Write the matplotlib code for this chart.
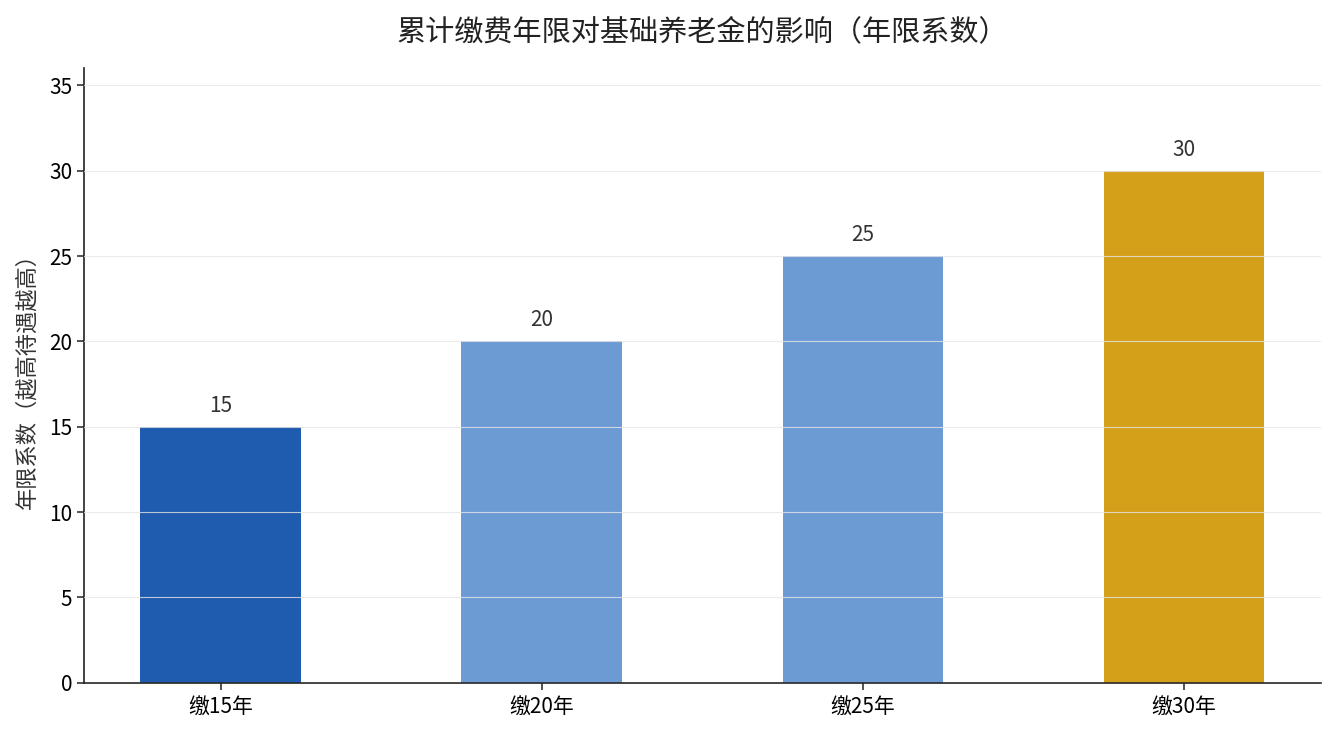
import matplotlib
matplotlib.use("Agg")
import matplotlib.pyplot as plt

plt.rcParams['font.family'] = ['Noto Sans CJK SC', 'DejaVu Sans']

categories = ["缴15年", "缴20年", "缴25年", "缴30年"]
values = [15, 20, 25, 30]
colors = ["#1F5BAE", "#6C9BD4", "#6C9BD4", "#D4A01A"]

fig = plt.figure(figsize=(13.34, 7.35), dpi=100)
ax = fig.add_axes([0.063, 0.071, 0.927, 0.836])

x = list(range(len(categories)))
bars = ax.bar(x, values, width=0.5, color=colors, zorder=2)
for xi, v in zip(x, values):
    ax.text(xi, v + 0.6, f"{v}", ha="center", va="bottom", fontsize=15, color="#333333")

ax.set_xticks(x)
ax.set_xticklabels(categories, fontsize=15)
ax.set_ylim(0, 36)
ax.set_yticks(range(0, 36, 5))
ax.tick_params(axis='y', labelsize=15, length=5, width=1.1, color="#222222")
ax.tick_params(axis='x', length=5, width=1.1, color="#222222", pad=4)
ax.yaxis.grid(True, color="#e6e6e6", linewidth=0.8, alpha=0.8, zorder=3)
ax.set_axisbelow(False)
ax.set_ylabel("年限系数（越高待遇越高）", fontsize=16, color="#333333", labelpad=8)
ax.set_title("累计缴费年限对基础养老金的影响（年限系数）", fontsize=21, color="#222222", pad=20)
for s in ["top", "right"]:
    ax.spines[s].set_visible(False)
for s in ["left", "bottom"]:
    ax.spines[s].set_color("#222222")
    ax.spines[s].set_linewidth(1.2)

fig.savefig("out.png", dpi=100)
